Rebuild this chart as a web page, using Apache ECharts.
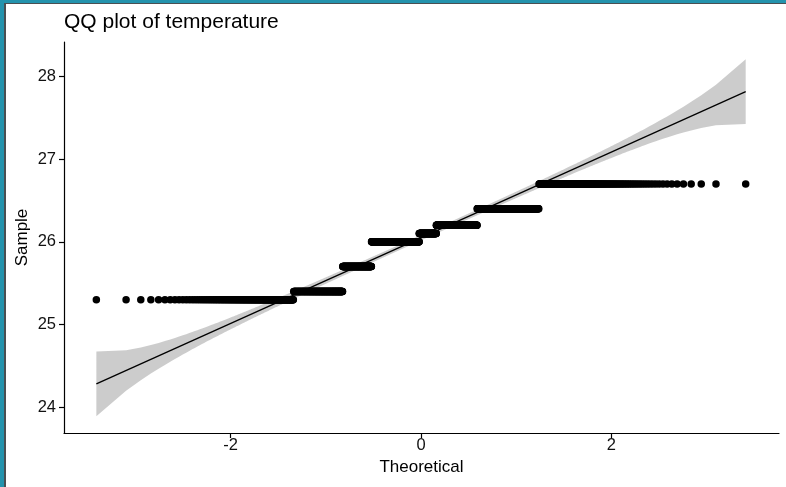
<!DOCTYPE html>
<html>
<head>
<meta charset="utf-8">
<script src="https://cdn.jsdelivr.net/npm/echarts@6/dist/echarts.min.js"></script>
<style>
  html, body { margin: 0; padding: 0; background: #ffffff; }
  #wrap { position: relative; width: 786px; height: 487px; overflow: hidden; background: #fff; }
  #chart { position: absolute; left: 0; top: 0; width: 786px; height: 487px; }
  .bl { position: absolute; left: 0; top: 0; width: 4px; height: 487px; background: #2493ad; }
  .bl2 { position: absolute; left: 4px; top: 3px; width: 2px; height: 484px; background: #4a4f52; }
  .bt { position: absolute; left: 0; top: 0; width: 786px; height: 3px; background: #2493ad; }
  .bt2 { position: absolute; left: 4px; top: 3px; width: 782px; height: 1px; background: #4a4f52; }
</style>
</head>
<body>
<div id="wrap">
  <div id="chart"></div>
  <div class="bt"></div><div class="bt2"></div><div class="bl"></div><div class="bl2"></div>
</div>
<script>
// Observed temperature values and how many observations have each value
const sampleValues = [25.3, 25.4, 25.7, 26.0, 26.1, 26.2, 26.4, 26.7];
const sampleCounts = [139, 177, 148, 294, 110, 244, 262, 166];
const xTickValues = [-2, 0, 2];
const yTickValues = [24, 25, 26, 27, 28];
const titleText = 'QQ plot of temperature';
const xName = 'Theoretical';
const yName = 'Sample';

// --- QQ statistics (as ggpubr::ggqqplot / qqplotr do) ---
function qnorm(p) {
  const a = [-3.969683028665376e+01, 2.209460984245205e+02, -2.759285104469687e+02, 1.383577518672690e+02, -3.066479806614716e+01, 2.506628277459239e+00];
  const b = [-5.447609879822406e+01, 1.615858368580409e+02, -1.556989798598866e+02, 6.680131188771972e+01, -1.328068155288572e+01];
  const c = [-7.784894002430293e-03, -3.223964580411365e-01, -2.400758277161838e+00, -2.549732539343734e+00, 4.374664141464968e+00, 2.938163982698783e+00];
  const d = [7.784695709041462e-03, 3.224671290700398e-01, 2.445134137142996e+00, 3.754408661907416e+00];
  const pl = 0.02425, ph = 1 - pl;
  let q, r;
  if (p < pl) {
    q = Math.sqrt(-2 * Math.log(p));
    return (((((c[0]*q+c[1])*q+c[2])*q+c[3])*q+c[4])*q+c[5]) / ((((d[0]*q+d[1])*q+d[2])*q+d[3])*q+1);
  } else if (p <= ph) {
    q = p - 0.5; r = q * q;
    return (((((a[0]*r+a[1])*r+a[2])*r+a[3])*r+a[4])*r+a[5])*q / (((((b[0]*r+b[1])*r+b[2])*r+b[3])*r+b[4])*r+1);
  } else {
    q = Math.sqrt(-2 * Math.log(1 - p));
    return -(((((c[0]*q+c[1])*q+c[2])*q+c[3])*q+c[4])*q+c[5]) / ((((d[0]*q+d[1])*q+d[2])*q+d[3])*q+1);
  }
}
function dnorm(z) { return Math.exp(-0.5 * z * z) / Math.sqrt(2 * Math.PI); }

const sample = [];
sampleValues.forEach((v, i) => { for (let k = 0; k < sampleCounts[i]; k++) sample.push(v); });
const n = sample.length;
function quantile7(arr, p) {
  const h = (arr.length - 1) * p, lo = Math.floor(h), hi = Math.ceil(h);
  return arr[lo] + (h - lo) * (arr[hi] - arr[lo]);
}
const q1 = quantile7(sample, 0.25), q3 = quantile7(sample, 0.75);
const t1 = qnorm(0.25), t3 = qnorm(0.75);
const slope = (q3 - q1) / (t3 - t1);
const intercept = q1 - slope * t1;
const zc = qnorm(0.975);

const points = [], upper = [], lower = [];
for (let i = 0; i < n; i++) {
  const p = (i + 1 - 0.5) / n;
  const z = qnorm(p);
  points.push([z, sample[i]]);
  const fit = intercept + slope * z;
  const se = (slope / dnorm(z)) * Math.sqrt(p * (1 - p) / n);
  upper.push([z, fit + zc * se]);
  lower.push([z, fit - zc * se]);
}
const zMin = points[0][0], zMax = points[n - 1][0];
const lineData = [[zMin, intercept + slope * zMin], [zMax, intercept + slope * zMax]];

const chart = echarts.init(document.getElementById('chart'), null, { renderer: 'canvas' });
const font = '"Liberation Sans", Arial, Helvetica, sans-serif';
chart.setOption({
  animation: false,
  backgroundColor: '#ffffff',
  title: {
    text: titleText, left: 59, top: 7,
    textStyle: { fontFamily: font, fontSize: 21, fontWeight: 'normal', color: '#000' }
  },
  grid: { left: 64, right: 7, top: 42, bottom: 54, containLabel: false },
  xAxis: {
    type: 'value', min: -3.75, max: 3.76,
    name: xName, nameLocation: 'middle', nameGap: 26, nameMoveOverlap: false,
    nameTextStyle: { fontFamily: font, fontSize: 17, color: '#000' },
    axisLine: { show: true, onZero: false, lineStyle: { color: '#000', width: 1.2 } },
    axisTick: { show: true, length: 5, customValues: xTickValues, lineStyle: { color: '#000', width: 1.2 } },
    axisLabel: { customValues: xTickValues, fontFamily: font, fontSize: 16.5, color: '#111', margin: 4 },
    splitLine: { show: false }
  },
  yAxis: {
    type: 'value', min: 23.685, max: 28.42,
    name: yName, nameLocation: 'middle', nameGap: 33, nameRotate: 90, nameMoveOverlap: false,
    nameTextStyle: { fontFamily: font, fontSize: 17, color: '#000' },
    axisLine: { show: true, onZero: false, lineStyle: { color: '#000', width: 1.2 } },
    axisTick: { show: true, length: 5, customValues: yTickValues, lineStyle: { color: '#000', width: 1.2 } },
    axisLabel: { customValues: yTickValues, fontFamily: font, fontSize: 16.5, color: '#111', margin: 8 },
    splitLine: { show: false }
  },
  series: [
    {
      type: 'custom',
      data: [[0, 0]],
      silent: true,
      z: 1,
      renderItem: function (params, api) {
        const pts = [];
        for (let i = 0; i < upper.length; i++) pts.push(api.coord(upper[i]));
        for (let i = lower.length - 1; i >= 0; i--) pts.push(api.coord(lower[i]));
        return { type: 'polygon', shape: { points: pts }, style: { fill: 'rgba(0,0,0,0.2)', stroke: null } };
      }
    },
    {
      type: 'scatter',
      data: points,
      symbol: 'circle',
      symbolSize: 7.5,
      itemStyle: { color: '#000', opacity: 1 },
      z: 3,
      silent: true
    },
    {
      type: 'line',
      data: lineData,
      showSymbol: false,
      lineStyle: { color: '#000', width: 1.3 },
      z: 4,
      silent: true
    }
  ]
});
</script>
</body>
</html>
